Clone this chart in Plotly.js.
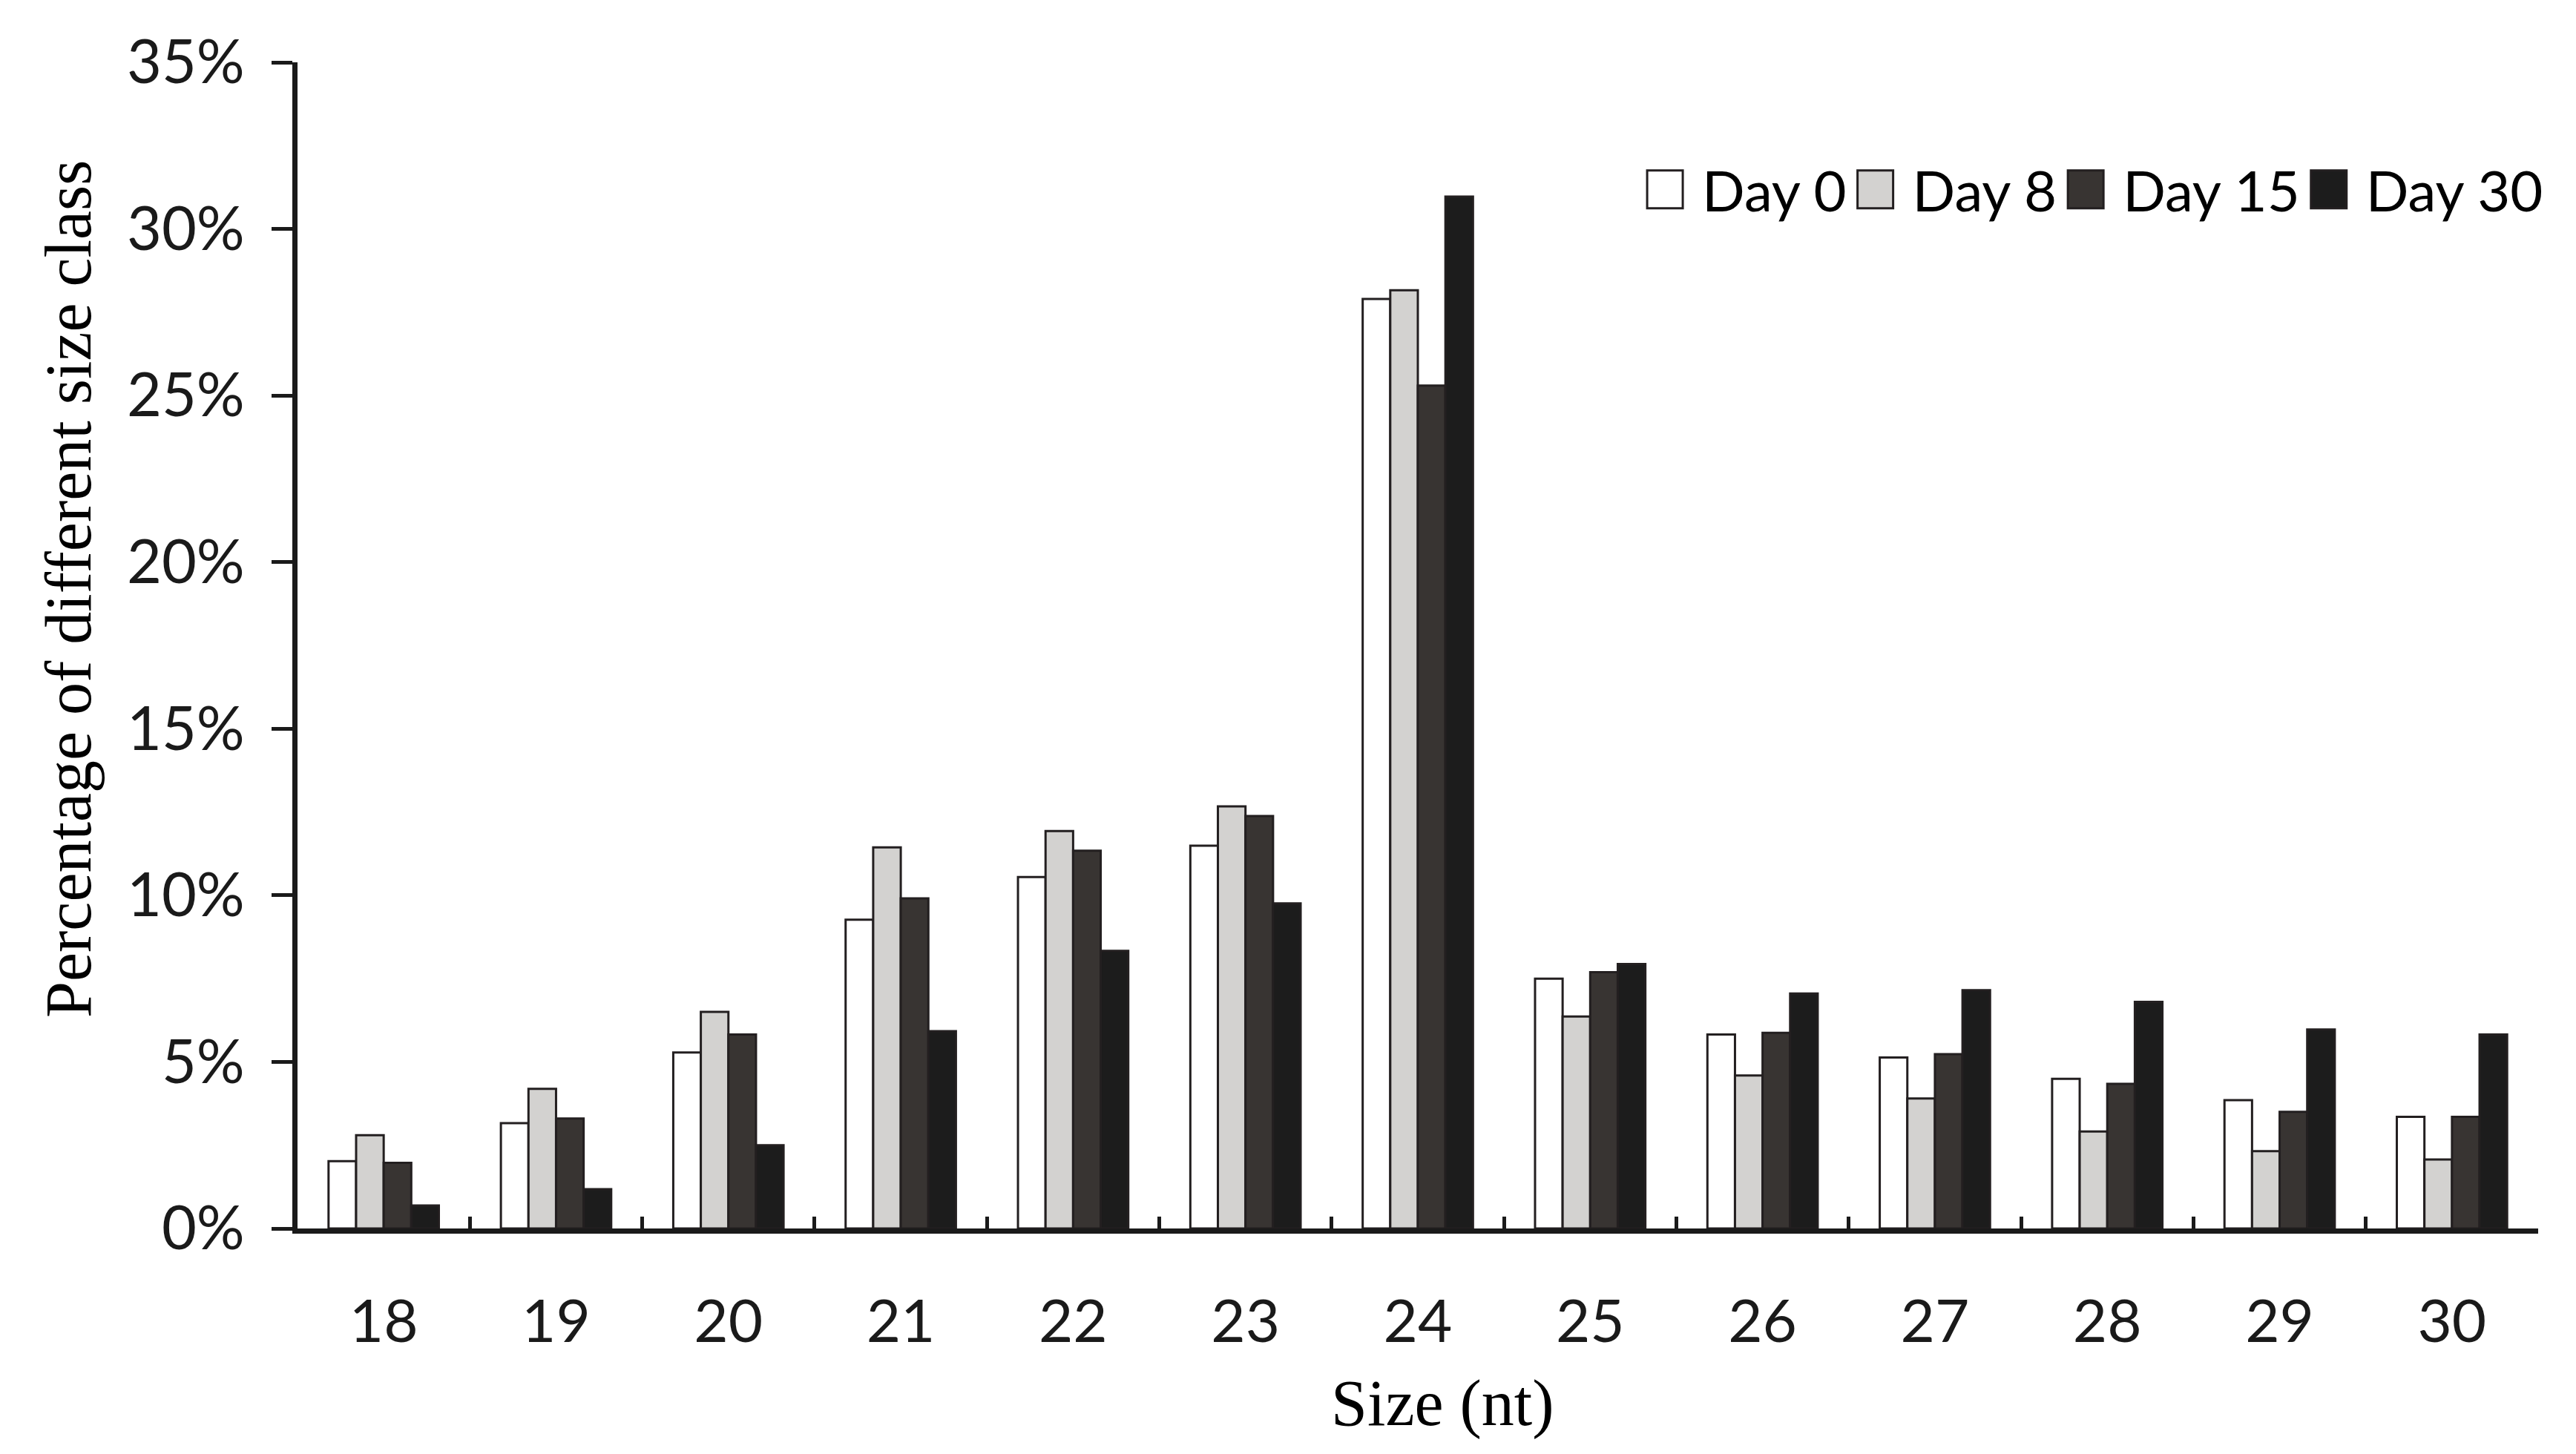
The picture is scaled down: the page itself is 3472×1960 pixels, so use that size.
<!DOCTYPE html>
<html>
<head>
<meta charset="utf-8">
<script src="https://cdn.plot.ly/plotly-3.0.1.min.js"></script>
<style>
  html, body { margin: 0; padding: 0; background: #ffffff; }
  #chart { width: 3472px; height: 1960px; }
</style>
</head>
<body>
<div id="chart"></div>
<script>
// ---- data ----
const sizes = ['18', '19', '20', '21', '22', '23', '24', '25', '26', '27', '28', '29', '30'];
const seriesNames = ['Day 0', 'Day 8', 'Day 15', 'Day 30'];
const day0  = [2.02, 3.16, 5.28, 9.27, 10.55, 11.49, 27.90, 7.50, 5.82, 5.13, 4.49, 3.85, 3.35];
const day8  = [2.80, 4.19, 6.50, 11.44, 11.93, 12.67, 28.16, 6.36, 4.59, 3.90, 2.91, 2.32, 2.07];
const day15 = [1.97, 3.30, 5.82, 9.91, 11.34, 12.38, 25.30, 7.69, 5.87, 5.23, 4.34, 3.50, 3.35];
const day30 = [0.69, 1.18, 2.50, 5.92, 8.33, 9.76, 30.97, 7.94, 7.05, 7.15, 6.80, 5.97, 5.82];
const yTickVals = [0, 5, 10, 15, 20, 25, 30, 35];
const yTickText = yTickVals.map(v => v + '%');

// ---- styles ----
const fills = ['#ffffff', '#d3d2d0', '#383432', '#1c1c1c'];
const outline = '#231f20';
const ink = '#1a1a1a';
const seriesValues = [day0, day8, day15, day30];

const traces = seriesValues.map((vals, i) => ({
  type: 'bar',
  name: seriesNames[i],
  x: sizes,
  y: vals,
  marker: { color: fills[i], line: { color: outline, width: 3 } },
  hoverinfo: 'x+y+name'
}));

const layout = {
  width: 3472,
  height: 1960,
  paper_bgcolor: '#ffffff',
  plot_bgcolor: '#ffffff',
  margin: { l: 401, r: 51, t: 84, b: 304 },
  barmode: 'group',
  bargap: 0.36,
  bargroupgap: 0,
  font: { family: 'Lato, "Open Sans", sans-serif', color: ink, size: 76 },
  showlegend: true,
  legend: {
    orientation: 'h',
    x: 1.004, xanchor: 'right',
    y: 0.891, yanchor: 'middle',
    font: { family: 'Lato, sans-serif', size: 76, color: '#000000' },
    itemwidth: 74,
    bgcolor: 'rgba(0,0,0,0)',
    traceorder: 'normal'
  },
  xaxis: {
    type: 'category',
    showline: true, linecolor: ink, linewidth: 7,
    ticks: 'inside', tickson: 'boundaries', ticklen: 16, tickwidth: 5, tickcolor: ink,
    showgrid: false, zeroline: false,
    tickfont: { family: 'Lato, sans-serif', size: 80, color: ink },
    ticklabelstandoff: 50
  },
  yaxis: {
    range: [0, 35],
    tickvals: yTickVals,
    ticktext: yTickText,
    showline: true, linecolor: ink, linewidth: 7,
    ticks: 'outside', ticklen: 28, tickwidth: 5, tickcolor: ink,
    showgrid: false, zeroline: false,
    tickfont: { family: 'Lato, sans-serif', size: 81, color: ink },
    ticklabelstandoff: 20
  },
  annotations: [
    {
      text: 'Percentage of different size class',
      xref: 'paper', yref: 'paper',
      x: -0.102, y: 0.549, xanchor: 'center', yanchor: 'middle',
      textangle: -90, showarrow: false,
      font: { family: '"Liberation Serif", "Times New Roman", serif', size: 88, color: '#000000' }
    },
    {
      text: 'Size (nt)',
      xref: 'paper', yref: 'paper',
      x: 0.511, y: -0.1495, xanchor: 'center', yanchor: 'middle',
      showarrow: false,
      font: { family: '"Liberation Serif", "Times New Roman", serif', size: 88, color: '#000000' }
    }
  ]
};

Plotly.newPlot('chart', traces, layout, { staticPlot: true, displayModeBar: false }).then(gd => {
  // enlarge the legend swatches to the reference's big squares, placed just left of each label
  gd.querySelectorAll('.legend .traces').forEach(tr => {
    const txt = tr.querySelector('.legendtext');
    if (!txt) return;
    const tl = txt.getBoundingClientRect().left;
    tr.querySelectorAll('.legendpoints path').forEach(p => {
      p.style.vectorEffect = 'non-scaling-stroke';
      p.setAttribute('transform', 'scale(4,4.25)');
      const r = p.getBoundingClientRect();
      const cx = (r.left + r.right) / 2;
      const dx = (tl - 26 - 24) - cx;
      p.setAttribute('transform', 'translate(' + dx + ',0) scale(4,4.25)');
    });
  });
});
</script>
</body>
</html>
